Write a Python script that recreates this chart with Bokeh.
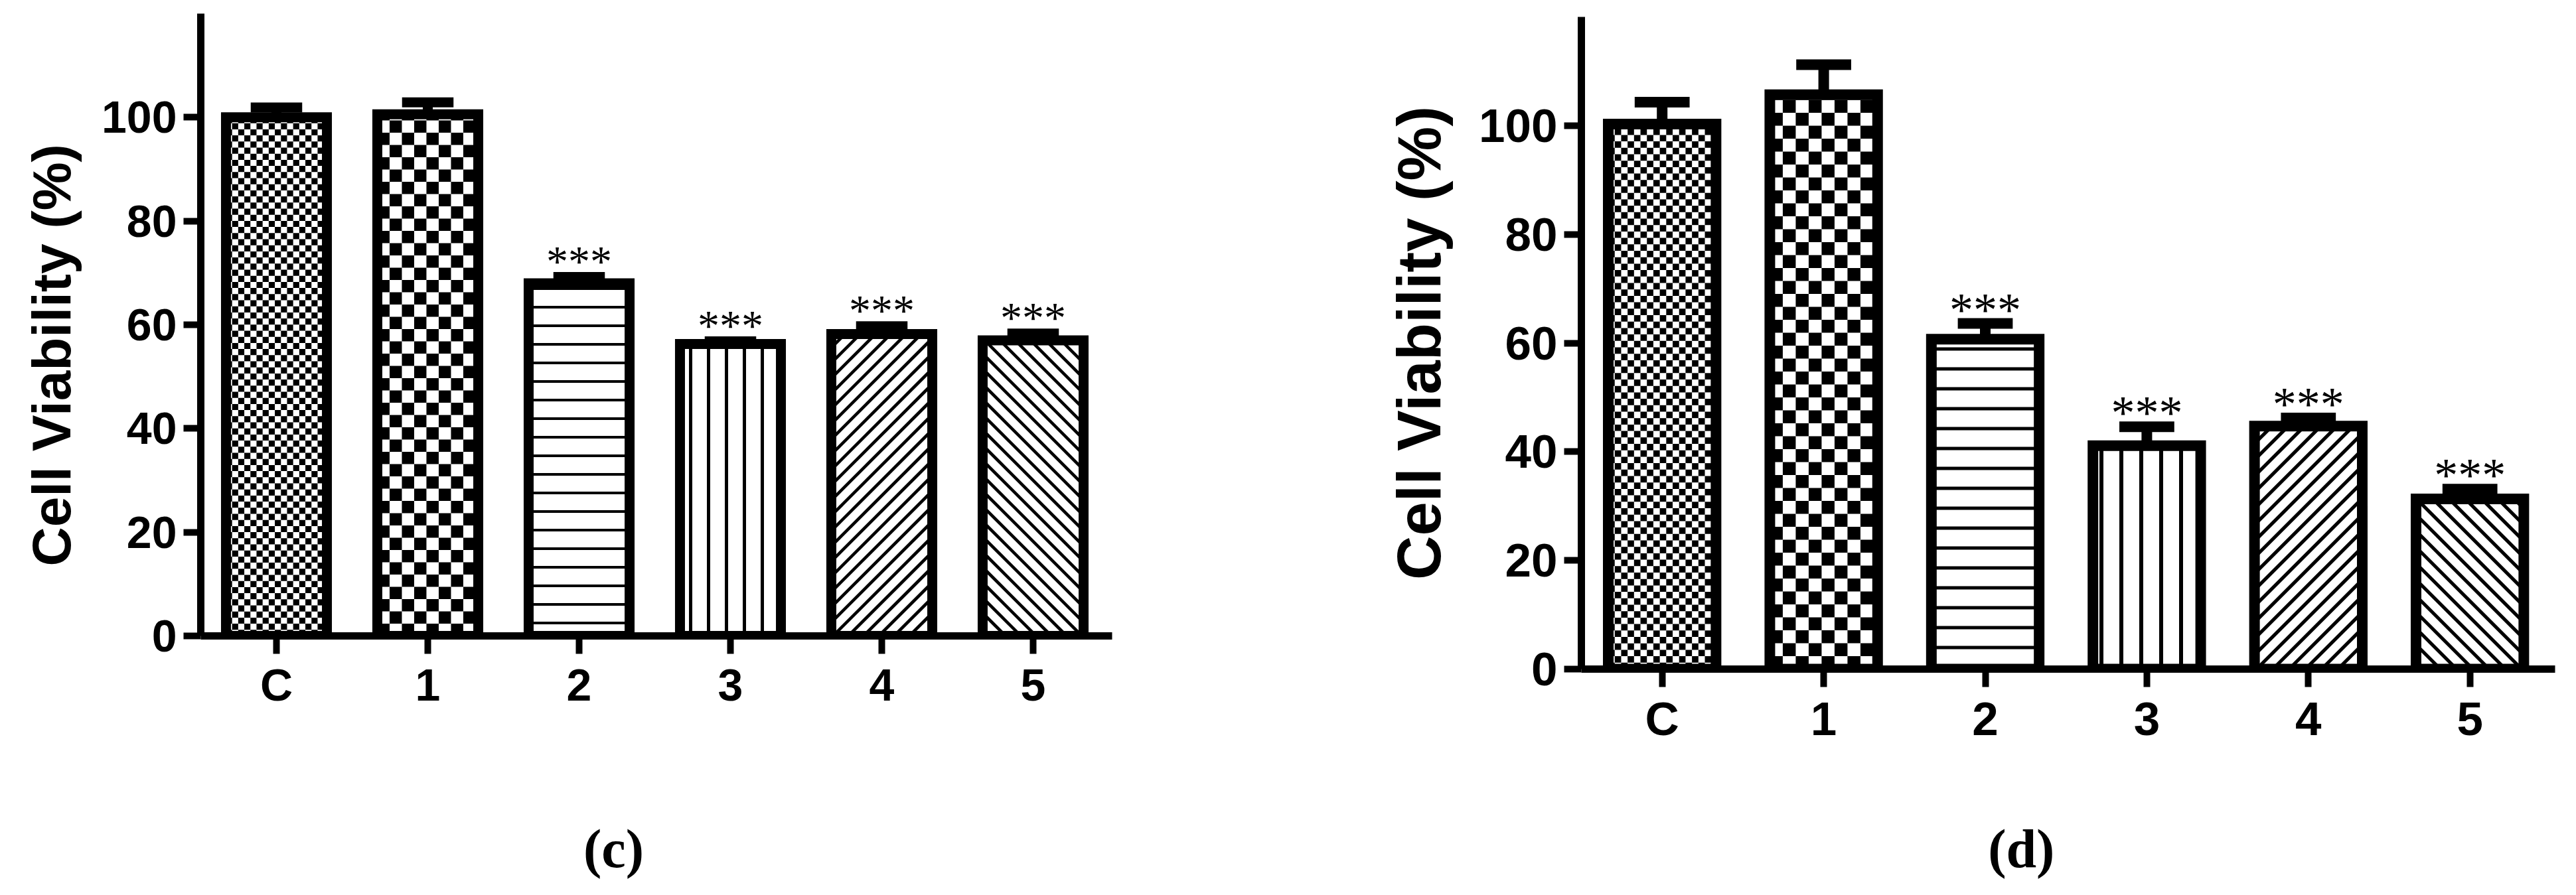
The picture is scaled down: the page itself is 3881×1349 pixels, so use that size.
from bokeh.plotting import figure
from bokeh.layouts import row, column
from bokeh.models import FixedTicker, LabelSet, ColumnDataSource, Title
from bokeh.core.properties import value
from bokeh.embed import file_html
from bokeh.resources import INLINE

# ---------------- data ----------------
categories = ["C", "1", "2", "3", "4", "5"]
y_ticks = [0, 20, 40, 60, 80, 100]
y_label = "Cell Viability (%)"

viability_c = [100.0, 100.6, 68.0, 56.3, 58.2, 57.0]
error_c = [1.9, 2.3, 1.2, 0.5, 1.5, 1.3]
signif_c = ["", "", "***", "***", "***", "***"]

viability_d = [100.3, 105.7, 60.7, 41.1, 44.7, 31.3]
error_d = [4.0, 5.5, 2.9, 3.5, 1.5, 1.8]
signif_d = ["", "", "***", "***", "***", "***"]

panel_captions = ["(c)", "(d)"]

BAR_W = 0.667


def checker_quads(xc, top, cell_px, dx, dy):
    """black cells of a checkerboard filling one bar (clipped to the bar)."""
    x0 = xc - BAR_W / 2
    x1 = xc + BAR_W / 2
    cw = cell_px / dx
    ch = cell_px / dy
    L, R, B, T = [], [], [], []
    i = 0
    while x0 + i * cw < x1:
        j = 0
        while j * ch < top:
            if (i + j) % 2 == 0:
                L.append(x0 + i * cw)
                R.append(min(x0 + (i + 1) * cw, x1))
                B.append(j * ch)
                T.append(min((j + 1) * ch, top))
            j += 1
        i += 1
    return L, R, B, T


def diag_segments(xc, top, spacing_px, dx, dy, rising):
    """45-degree hatch lines (in screen space) clipped to one bar."""
    W = BAR_W * dx
    H = top * dy
    x0 = xc - BAR_W / 2
    X0, Y0, X1, Y1 = [], [], [], []
    if rising:  # "/" : Y = X + c
        c = -W + spacing_px / 2
        while c < H:
            lo = max(0.0, -c)
            hi = min(W, H - c)
            if hi > lo:
                X0.append(x0 + lo / dx); Y0.append((lo + c) / dy)
                X1.append(x0 + hi / dx); Y1.append((hi + c) / dy)
            c += spacing_px
    else:  # "\" : Y = -X + c
        c = spacing_px / 2
        while c < W + H:
            lo = max(0.0, c - H)
            hi = min(W, c)
            if hi > lo:
                X0.append(x0 + lo / dx); Y0.append((c - lo) / dy)
                X1.append(x0 + hi / dx); Y1.append((c - hi) / dy)
            c += spacing_px
    return X0, Y0, X1, Y1


def make_panel(vals, errs, sig, g):
    dx = g["dx"]
    dy = g["fh"] / 120.0
    p = figure(width=g["ml"] + g["fw"] + g["mr"], height=g["mt"] + g["fh"] + g["mb"],
               frame_width=g["fw"], frame_height=g["fh"],
               x_range=(-0.5, -0.5 + g["fw"] / dx), y_range=(0, 120),
               min_border_left=g["ml"], min_border_right=g["mr"],
               min_border_top=g["mt"], min_border_bottom=g["mb"],
               output_backend="svg", toolbar_location=None)
    p.outline_line_color = None
    p.xgrid.visible = False
    p.ygrid.visible = False
    p.background_fill_color = "white"
    p.border_fill_color = "white"

    xs = list(range(len(categories)))
    bw = g["bw"]

    # white fills (+ built-in line hatches for bars 2 and 3)
    for i in xs:
        kw = {}
        if i == 2:
            kw = dict(hatch_pattern="horizontal_line", hatch_scale=g["hl"],
                      hatch_weight=g["hlw"], hatch_color="black")
        elif i == 3:
            kw = dict(hatch_pattern="vertical_line", hatch_scale=g["vl"],
                      hatch_weight=g["vlw"], hatch_color="black")
        p.vbar(x=[xs[i]], top=[vals[i]], bottom=0, width=BAR_W,
               fill_color="white", line_color=None, **kw)

    # checkerboards (bars C and 1)
    for i, cell in ((0, g["fine"]), (1, g["coarse"])):
        L, R, B, T = checker_quads(xs[i], vals[i], cell, dx, dy)
        p.quad(left=L, right=R, bottom=B, top=T, fill_color="black", line_color=None)

    # diagonal hatches (bars 4 and 5)
    for i, rising in ((4, True), (5, False)):
        X0, Y0, X1, Y1 = diag_segments(xs[i], vals[i], g["dg"], dx, dy, rising)
        p.segment(x0=X0, y0=Y0, x1=X1, y1=Y1, line_color="black",
                  line_width=g["dgw"], line_cap="butt")

    # bar outlines
    p.vbar(x=xs, top=vals, bottom=0, width=BAR_W, fill_color=None,
           line_color="black", line_width=bw, line_join="miter")

    # error bars
    tops = [v + e for v, e in zip(vals, errs)]
    p.segment(x0=xs, y0=vals, x1=xs, y1=tops, line_color="black",
              line_width=bw, line_cap="butt")
    p.segment(x0=[x - 0.17 for x in xs], y0=tops, x1=[x + 0.17 for x in xs],
              y1=tops, line_color="black", line_width=bw, line_cap="butt")

    src = ColumnDataSource(dict(x=xs, y=tops, t=sig))
    p.add_layout(LabelSet(x="x", y="y", text="t", source=src,
                          text_align="center", text_baseline="alphabetic",
                          y_offset=g["star_off"], text_font="Liberation Sans",
                          text_font_size=g["star_fs"], text_color="black"))

    for ax in (p.xaxis[0], p.yaxis[0]):
        ax.axis_line_color = "black"
        ax.axis_line_width = g["axw"]
        ax.major_tick_line_color = "black"
        ax.major_tick_line_width = g["tkw"]
        ax.major_tick_in = 0
        ax.minor_tick_line_color = None
        ax.major_label_text_font = "Liberation Sans"
        ax.major_label_text_font_style = "bold"
        ax.major_label_text_font_size = g["tick_fs"]
        ax.major_label_text_color = "black"

    yax = p.yaxis[0]
    yax.ticker = FixedTicker(ticks=y_ticks)
    yax.major_tick_out = g["tko"]
    yax.major_label_standoff = g["ystand"]
    if g["use_title"]:
        p.add_layout(Title(text=y_label, align="left", offset=g["t_off"],
                           vertical_align="bottom", standoff=g["t_stand"],
                           text_font="Liberation Sans", text_font_style="bold",
                           text_font_size=g["lab_fs"], text_color="black"), "left")
    else:
        yax.axis_label = y_label
        yax.axis_label_text_font = "Liberation Sans"
        yax.axis_label_text_font_style = "bold"
        yax.axis_label_text_font_size = g["lab_fs"]
        yax.axis_label_text_color = "black"
        yax.axis_label_standoff = g["labstand"]

    xax = p.xaxis[0]
    xax.ticker = FixedTicker(ticks=xs)
    xax.major_label_overrides = {x: c for x, c in zip(xs, categories)}
    xax.major_tick_out = g["tko"] + 1
    xax.major_label_standoff = g["xstand"]
    return p


def make_caption(p, caption, g):
    """caption strip under a panel; shares the panel's x-range so it aligns with it."""
    c = figure(width=g["ml"] + g["fw"] + g["mr"], height=g["cap_h"],
               frame_width=g["fw"], frame_height=g["cap_h"],
               x_range=p.x_range, y_range=(0, g["cap_h"]),
               min_border_left=g["ml"], min_border_right=g["mr"],
               min_border_top=0, min_border_bottom=0,
               x_axis_location=None, y_axis_location=None,
               output_backend="svg", toolbar_location=None)
    c.outline_line_color = None
    c.grid.visible = False
    c.background_fill_color = "white"
    c.border_fill_color = "white"
    c.text(x=[g["cap_x"]], y=[g["cap_y"]], text=[caption],
           text_font=value("Liberation Serif"), text_font_style="bold",
           text_font_size="82px", text_color="black",
           text_align="center", text_baseline="alphabetic")
    return c


g1 = dict(fw=1373, fh=938, ml=302, mr=275, mt=20, mb=175, dx=228.0,
          bw=15, axw=11, tkw=10, tko=26, ystand=10, xstand=8,
          tick_fs="68px", lab_fs="82px", labstand=30,
          use_title=True, t_off=105, t_stand=56,
          star_fs="66px", star_off=2,
          fine=9.2, coarse=18.5, hl=28, hlw=4, vl=27, vlw=5, dg=23, dgw=4.7,
          cap_h=200, cap_x=2.228, cap_y=54)
g2 = dict(fw=1467, fh=983, ml=432, mr=16, mt=25, mb=125, dx=243.4,
          bw=16, axw=11, tkw=10, tko=26, ystand=10, xstand=8,
          tick_fs="71px", lab_fs="92px", labstand=36,
          use_title=False, t_off=0, t_stand=0,
          star_fs="72px", star_off=-3,
          fine=9.7, coarse=19.5, hl=30, hlw=5, vl=30, vlw=6, dg=24.5, dgw=5.2,
          cap_h=200, cap_x=2.223, cap_y=54)

p1 = make_panel(viability_c, error_c, signif_c, g1)
p2 = make_panel(viability_d, error_d, signif_d, g2)
c1 = make_caption(p1, panel_captions[0], g1)
c2 = make_caption(p2, panel_captions[1], g2)

layout = row(column(p1, c1), column(p2, c2))
open("out.html", "w").write(file_html(layout, INLINE))
